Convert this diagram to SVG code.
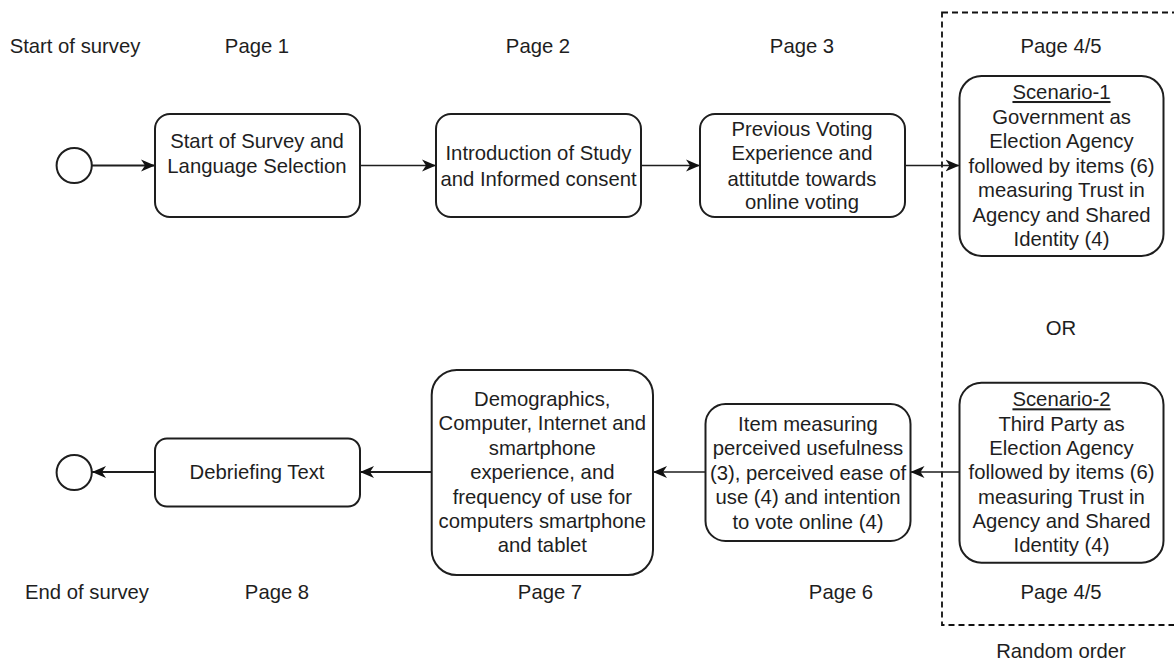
<svg xmlns="http://www.w3.org/2000/svg" width="1174" height="661" viewBox="0 0 1174 661">
<style>
text{font-family:"Liberation Sans",Arial,sans-serif;font-size:20.3px;fill:#1e1e1e;text-anchor:middle}
.box{fill:#fff;stroke:#1e1e1e;stroke-width:2}
.c{fill:#fff;stroke:#1e1e1e;stroke-width:2}
.ln{fill:none;stroke:#1e1e1e}
.u{text-decoration:underline}
</style>
<defs>
<marker id="arr" viewBox="0 0 14 14" refX="14" refY="7" markerWidth="14" markerHeight="14" markerUnits="userSpaceOnUse" orient="auto">
<path d="M0,1 L14,7 L0,13 L4,7 Z" fill="#111"/>
</marker>
</defs>
<rect x="942" y="12.5" width="260" height="612.5" fill="none" stroke="#111" stroke-width="1.8" stroke-dasharray="6 4"/>
<g id="labels">
<text x="75" y="53">Start of survey</text>
<text x="257" y="53">Page 1</text>
<text x="538" y="53">Page 2</text>
<text x="802" y="53">Page 3</text>
<text x="1061" y="53">Page 4/5</text>
<text x="1061" y="335">OR</text>
<text x="87" y="599">End of survey</text>
<text x="277" y="599">Page 8</text>
<text x="550" y="599">Page 7</text>
<text x="841" y="599">Page 6</text>
<text x="1061" y="599">Page 4/5</text>
<text x="1061" y="658">Random order</text>
</g>
<g id="connectors">
<line class="ln" x1="92" y1="165.5" x2="155" y2="165.5" stroke-width="2" marker-end="url(#arr)"/>
<line class="ln" x1="360" y1="165.5" x2="436" y2="165.5" stroke-width="1.3" marker-end="url(#arr)"/>
<line class="ln" x1="641" y1="165.5" x2="700" y2="165.5" stroke-width="1.3" marker-end="url(#arr)"/>
<line class="ln" x1="905" y1="165.5" x2="959.5" y2="165.5" stroke-width="1.3" marker-end="url(#arr)"/>
<line class="ln" x1="959.5" y1="472" x2="910.5" y2="472" stroke-width="1.3" marker-end="url(#arr)"/>
<line class="ln" x1="705.5" y1="472" x2="653" y2="472" stroke-width="1.6" marker-end="url(#arr)"/>
<line class="ln" x1="431.7" y1="472" x2="360" y2="472" stroke-width="2" marker-end="url(#arr)"/>
<line class="ln" x1="155" y1="472" x2="92" y2="472" stroke-width="2" marker-end="url(#arr)"/>
</g>
<g id="start"><circle class="c" cx="74.2" cy="165.5" r="17.6"/></g>
<g id="end"><circle class="c" cx="74.2" cy="472.5" r="17.6"/></g>
<g id="page1">
<rect class="box" x="155" y="114" width="205" height="103" rx="15"/>
<text x="257" y="148">Start of Survey and</text>
<text x="257" y="172.7">Language Selection</text>
</g>
<g id="page2">
<rect class="box" x="436" y="114" width="205" height="103" rx="15"/>
<text x="538.5" y="160">Introduction of Study</text>
<text x="538.5" y="186">and Informed consent</text>
</g>
<g id="page3">
<rect class="box" x="700" y="114" width="205" height="103" rx="15"/>
<text x="802" y="136">Previous Voting</text>
<text x="802" y="160">Experience and</text>
<text x="802" y="186">attitutde towards</text>
<text x="802" y="209">online voting</text>
</g>
<g id="scenario1">
<rect class="box" x="959.5" y="76" width="204" height="180" rx="22"/>
<text class="u" x="1061.5" y="99">Scenario-1</text>
<text x="1061.5" y="123.5">Government as</text>
<text x="1061.5" y="148">Election Agency</text>
<text x="1061.5" y="172.5">followed by items (6)</text>
<text x="1061.5" y="197">measuring Trust in</text>
<text x="1061.5" y="221.5">Agency and Shared</text>
<text x="1061.5" y="246">Identity (4)</text>
</g>
<g id="scenario2">
<rect class="box" x="959.5" y="382.7" width="204" height="180" rx="22"/>
<text class="u" x="1061.5" y="406.3">Scenario-2</text>
<text x="1061.5" y="431">Third Party as</text>
<text x="1061.5" y="455.3">Election Agency</text>
<text x="1061.5" y="479">followed by items (6)</text>
<text x="1061.5" y="503.7">measuring Trust in</text>
<text x="1061.5" y="528">Agency and Shared</text>
<text x="1061.5" y="552">Identity (4)</text>
</g>
<g id="page6">
<rect class="box" x="705.5" y="404" width="205" height="137" rx="20"/>
<text x="808" y="431">Item measuring</text>
<text x="808" y="455.4">perceived usefulness</text>
<text x="808" y="479.8">(3), perceived ease of</text>
<text x="808" y="504">use (4) and intention</text>
<text x="808" y="528.5">to vote online (4)</text>
</g>
<g id="page7">
<rect class="box" x="431.7" y="370" width="221.3" height="205" rx="25"/>
<text x="542.3" y="406">Demographics,</text>
<text x="542.3" y="430.4">Computer, Internet and</text>
<text x="542.3" y="454.8">smartphone</text>
<text x="542.3" y="479.2">experience, and</text>
<text x="542.3" y="503.6">frequency of use for</text>
<text x="542.3" y="528">computers smartphone</text>
<text x="542.3" y="552.4">and tablet</text>
</g>
<g id="page8">
<rect class="box" x="155" y="438.5" width="205" height="68" rx="12"/>
<text x="257" y="479">Debriefing Text</text>
</g>
</svg>
